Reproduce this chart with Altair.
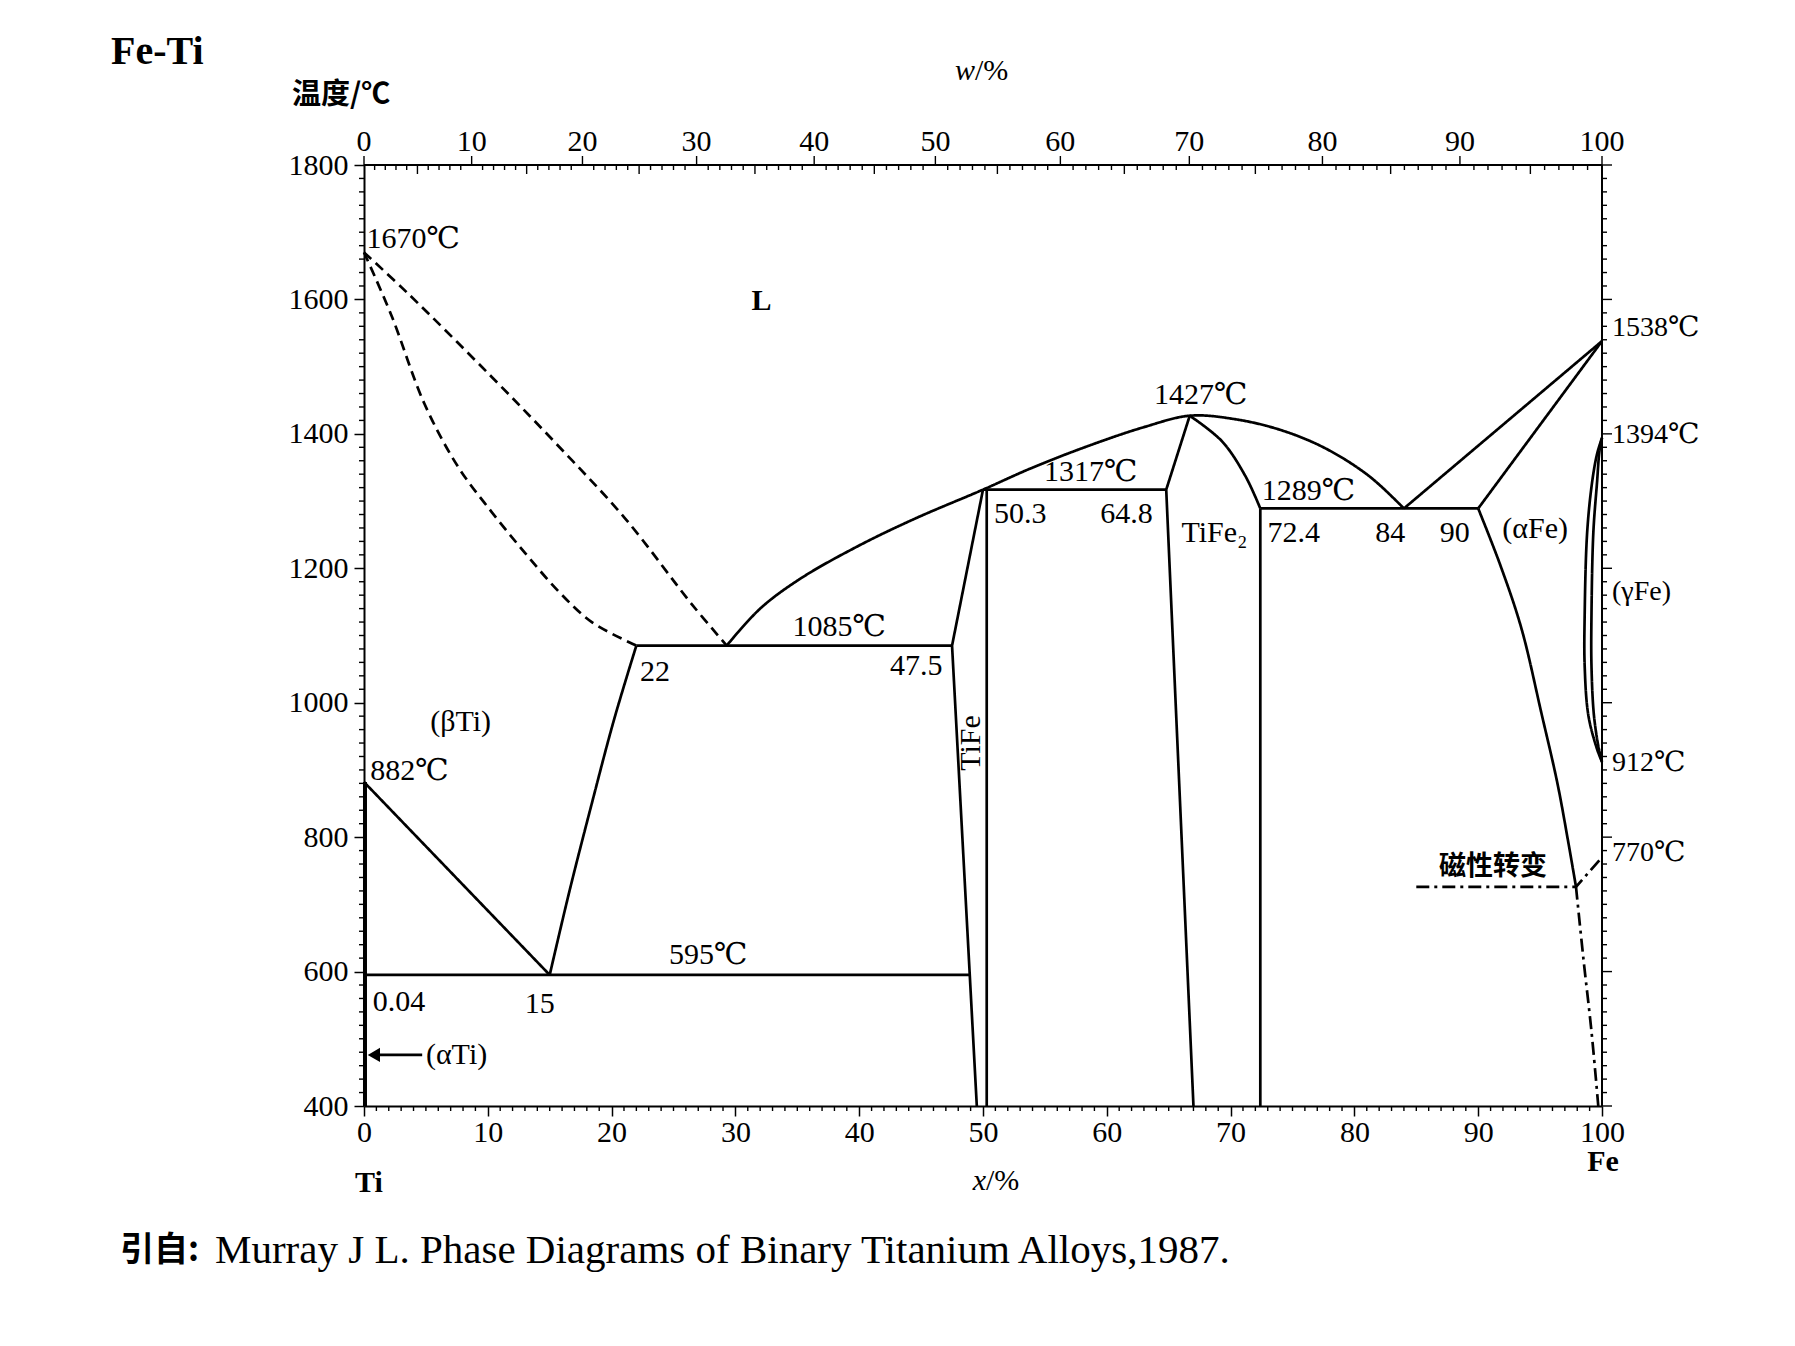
import altair as alt
import pandas as pd

# ---------------- values ----------------
# x = atomic % Fe, T = temperature (°C)
beta_liquidus_x = [0, 3.6, 10.3, 15.7, 21.1, 26.5, 29.3]
beta_liquidus_T = [1670, 1608, 1485, 1382, 1274, 1146, 1085]
beta_solidus_x = [0, 2.2, 4.9, 7.6, 10.3, 13.0, 15.7, 18.4, 22.0]
beta_solidus_T = [1670, 1577, 1444, 1351, 1284, 1223, 1166, 1120, 1085]
beta_transus_x = [0, 15]
beta_transus_T = [882, 595]
beta_solvus_x = [15, 16.6, 18.4, 20.2, 22.0]
beta_solvus_T = [595, 720, 850, 975, 1085]
eutectoid_x = [0.04, 48.9]
eutectoid_T = [595, 595]
eutectic_x = [22.0, 47.5]
eutectic_T = [1085, 1085]
alpha_ti_x = [0.08, 0.08]
alpha_ti_T = [400, 882]
liquidus_x = [29.3, 32.0, 35.2, 39.8, 44.4, 50.0, 53.9, 58.5, 63.0, 66.7, 70.3, 74.0, 77.6, 81.2, 84.0]
liquidus_T = [1085, 1140, 1184, 1232, 1273, 1317, 1349, 1382, 1410, 1427, 1422, 1406, 1379, 1337, 1289]
tife_left_x = [50.0, 47.5, 49.5]
tife_left_T = [1317, 1085, 400]
tife_right_x = [50.3, 50.3]
tife_right_T = [1317, 400]
peritectic_x = [50.0, 64.8]
peritectic_T = [1317, 1317]
tife2_left_x = [66.7, 64.8, 67.0]
tife2_left_T = [1427, 1317, 400]
tife2_right_x = [66.7, 69.3, 71.2, 72.4]
tife2_right_T = [1427, 1389, 1337, 1289]
tife2_vert_x = [72.4, 72.4]
tife2_vert_T = [1289, 400]
eutectic2_x = [72.4, 90.0]
eutectic2_T = [1289, 1289]
fe_liquidus_x = [84.0, 100.0]
fe_liquidus_T = [1289, 1538]
fe_solidus_x = [90.0, 100.0]
fe_solidus_T = [1289, 1538]
alpha_fe_solvus_x = [90.0, 91.8, 93.5, 95.1, 96.4, 97.3, 97.9]
alpha_fe_solvus_T = [1289, 1204, 1110, 985, 880, 790, 726]
alpha_fe_low_x = [97.9, 98.5, 99.15, 99.7]
alpha_fe_low_T = [726, 619, 511, 400]
magnetic_x = [85.0, 97.9, 100.0]
magnetic_T = [726, 726, 770]
gamma_outer_x = [100, 99.6, 99.2, 98.8, 98.6, 98.6, 98.9, 99.6, 100]
gamma_outer_T = [1394, 1370, 1328, 1253, 1130, 1055, 981, 931, 912]
gamma_inner_x = [100, 99.8, 99.6, 99.3, 99.15, 99.15, 99.35, 99.75, 100]
gamma_inner_T = [1394, 1375, 1328, 1253, 1130, 1055, 981, 931, 912]
arrow_x = [4.7, 0.8]
arrow_T = [476, 476]

# axis tick values
bottom_labels = list(range(0, 101, 10))
bottom_minor = [v for v in range(0, 101) if v % 10]
left_labels = list(range(400, 1801, 200))
left_minor = [v for v in range(400, 1801, 20) if v % 200]
top_w = list(range(0, 101))          # weight % Fe ticks on the top axis
M_FE, M_TI = 55.845, 47.867          # atomic masses for w% -> x% conversion

# annotations (text, x at.%, T)
ann_center = [
    ("(βTi)", 7.8, 972), ("15", 14.2, 552), ("595℃", 27.8, 625),
    ("22", 23.5, 1046), ("1085℃", 38.4, 1112), ("47.5", 44.6, 1054),
    ("50.3", 53.0, 1281), ("64.8", 61.6, 1281), ("1317℃", 58.7, 1343),
    ("1427℃", 67.6, 1458), ("TiFe₂", 68.7, 1253), ("1289℃", 76.3, 1315),
    ("72.4", 75.1, 1253), ("84", 82.9, 1253), ("90", 88.1, 1253),
    ("(αFe)", 94.6, 1258),
]
ann_left = [("1670℃", 0.2, 1690), ("882℃", 0.5, 899), ("0.04", 0.7, 555), ("(αTi)", 5.0, 476)]
ann_bold = [("L", 32.1, 1597)]
ann_cjk = [("磁性转变", 91.2, 755)]
ann_rot = [("TiFe", 49.0, 940)]
ann_right = [("1538℃", 100, 1558), ("1394℃", 100, 1399), ("(γFe)", 100, 1164),
             ("912℃", 100, 910), ("770℃", 100, 777)]

# ---------------- chart ----------------
SERIF = "Liberation Serif, DejaVu Serif, Noto Sans CJK SC"
CJK = "Noto Sans CJK SC"
W, H = 1238, 941

xscale = alt.Scale(domain=[0, 100], nice=False, zero=False)
yscale = alt.Scale(domain=[400, 1800], nice=False, zero=False)

bottom_axis = alt.Axis(values=bottom_labels, format="d", tickSize=10, tickWidth=1.5, tickColor="black",
                       domainColor="black", domainWidth=2, labelFont=SERIF, labelFontSize=30,
                       labelColor="black", labelPadding=1, labelFlush=False, labelOverlap=False,
                       grid=False, title=None)
left_axis = alt.Axis(values=left_labels, format="d", tickSize=10, tickWidth=1.5, tickColor="black",
                     domainColor="black", domainWidth=2, labelFont=SERIF, labelFontSize=30,
                     labelColor="black", labelPadding=6, labelFlush=False, labelOverlap=False,
                     grid=False, title=None)


def X():
    return alt.X("x:Q", scale=xscale, axis=bottom_axis, title=None)


def Y():
    return alt.Y("T:Q", scale=yscale, axis=left_axis, title=None)


segments = [
    ("beta_liq", beta_liquidus_x, beta_liquidus_T, "dashed", True),
    ("beta_sol", beta_solidus_x, beta_solidus_T, "dashed", True),
    ("beta_tr", beta_transus_x, beta_transus_T, "solid", False),
    ("beta_solv", beta_solvus_x, beta_solvus_T, "solid", True),
    ("eutectoid", eutectoid_x, eutectoid_T, "solid", False),
    ("eutectic", eutectic_x, eutectic_T, "solid", False),
    ("liquidus", liquidus_x, liquidus_T, "solid", True),
    ("tife_l", tife_left_x, tife_left_T, "solid", False),
    ("tife_r", tife_right_x, tife_right_T, "solid", False),
    ("perit", peritectic_x, peritectic_T, "solid", False),
    ("tife2_l", tife2_left_x, tife2_left_T, "solid", False),
    ("tife2_r", tife2_right_x, tife2_right_T, "solid", True),
    ("tife2_v", tife2_vert_x, tife2_vert_T, "solid", False),
    ("eut2", eutectic2_x, eutectic2_T, "solid", False),
    ("fe_liq", fe_liquidus_x, fe_liquidus_T, "solid", False),
    ("fe_sol", fe_solidus_x, fe_solidus_T, "solid", False),
    ("afe_solv", alpha_fe_solvus_x, alpha_fe_solvus_T, "solid", True),
    ("afe_low", alpha_fe_low_x, alpha_fe_low_T, "dashdot", True),
    ("magnetic", magnetic_x, magnetic_T, "dashdot", False),
    ("g_out", gamma_outer_x, gamma_outer_T, "solid", True),
    ("g_in", gamma_inner_x, gamma_inner_T, "solid", True),
    ("arrow", arrow_x, arrow_T, "solid", False),
]
rows = []
for name, xs, ts, style, curved in segments:
    for i, (a, b) in enumerate(zip(xs, ts)):
        rows.append({"seg": name, "ord": i, "x": a, "T": b, "style": style, "curved": curved})
df = pd.DataFrame(rows)

dash = alt.StrokeDash("style:N", legend=None,
                      scale=alt.Scale(domain=["solid", "dashed", "dashdot"],
                                      range=[[1, 0], [10, 6], [13, 5, 3, 5]]))

lines_straight = alt.Chart(df[~df["curved"]]).mark_line(
    color="black", strokeWidth=2.7, interpolate="linear").encode(
    x=X(), y=Y(), detail="seg:N", order="ord:Q", strokeDash=dash)
lines_curved = alt.Chart(df[df["curved"]]).mark_line(
    color="black", strokeWidth=2.7, interpolate="catmull-rom").encode(
    x=X(), y=Y(), detail="seg:N", order="ord:Q", strokeDash=dash)

alpha_ti = alt.Chart(pd.DataFrame({"x": alpha_ti_x, "T": alpha_ti_T})).mark_line(
    color="black", strokeWidth=4).encode(x=X(), y=Y())
arrow_head = alt.Chart(pd.DataFrame({"x": arrow_x[-1:], "T": arrow_T[-1:]})).mark_point(
    shape="triangle-left", filled=True, size=200, color="black", opacity=1).encode(x=X(), y=Y())

# minor ticks / frame
tick_style = dict(color="black", strokeWidth=1.4)
bottom_minor_l = alt.Chart(pd.DataFrame({"x": bottom_minor})).mark_rule(**tick_style).encode(
    x=X(), y=alt.value(H), y2=alt.value(H + 5))
left_minor_l = alt.Chart(pd.DataFrame({"T": left_minor})).mark_rule(**tick_style).encode(
    y=Y(), x=alt.value(-5), x2=alt.value(0))
right_minor_l = alt.Chart(pd.DataFrame({"T": left_minor})).mark_rule(**tick_style).encode(
    y=Y(), x=alt.value(W), x2=alt.value(W + 5))
right_major_l = alt.Chart(pd.DataFrame({"T": left_labels})).mark_rule(**tick_style).encode(
    y=Y(), x=alt.value(W), x2=alt.value(W + 10))

top = pd.DataFrame({"w": top_w})
top["x"] = 100 * (top["w"] / M_FE) / (top["w"] / M_FE + (100 - top["w"]) / M_TI)
top["label"] = top["w"].astype(str)
top_major = top[top["w"] % 10 == 0]
top_mid = top[(top["w"] % 5 == 0) & (top["w"] % 10 != 0)]
top_minor = top[top["w"] % 5 != 0]
top_major_l = alt.Chart(top_major).mark_rule(**tick_style).encode(x=X(), y=alt.value(-9), y2=alt.value(0))
top_mid_l = alt.Chart(top_mid).mark_rule(**tick_style).encode(x=X(), y=alt.value(0), y2=alt.value(9))
top_minor_l = alt.Chart(top_minor).mark_rule(**tick_style).encode(x=X(), y=alt.value(0), y2=alt.value(5))
top_labels_l = alt.Chart(top_major).mark_text(font=SERIF, fontSize=30, color="black",
                                              baseline="alphabetic").encode(
    x=X(), y=alt.value(-14), text="label:N")

frame = pd.DataFrame({"k": [0]})
top_line = alt.Chart(frame).mark_rule(color="black", strokeWidth=2).encode(
    x=alt.value(0), x2=alt.value(W), y=alt.value(0))
right_line = alt.Chart(frame).mark_rule(color="black", strokeWidth=2).encode(
    x=alt.value(W), y=alt.value(0), y2=alt.value(H))


def ann_layer(items, **kw):
    d = pd.DataFrame(items, columns=["text", "x", "T"])
    style = dict(font=SERIF, fontSize=30, color="black")
    style.update(kw)
    return alt.Chart(d).mark_text(**style).encode(x=X(), y=Y(), text="text:N")


texts = [
    ann_layer(ann_center, align="center", baseline="middle"),
    ann_layer(ann_left, align="left", baseline="middle"),
    ann_layer(ann_bold, align="center", baseline="middle", fontWeight="bold"),
    ann_layer(ann_cjk, align="center", baseline="middle", font=CJK, fontSize=27, fontWeight="bold"),
    ann_layer(ann_rot, align="center", baseline="middle", angle=270),
    ann_layer(ann_right, align="left", baseline="middle", dx=10, fontSize=28),
]


def free_text(txt, px, py, **kw):
    style = dict(font=SERIF, fontSize=30, color="black", baseline="middle")
    style.update(kw)
    return alt.Chart(pd.DataFrame({"t": [txt]})).mark_text(**style).encode(
        x=alt.value(px), y=alt.value(py), text="t:N")


outer = [
    free_text("Fe-Ti", -253, -113, fontSize=40, fontWeight="bold", align="left"),
    free_text("温度/℃", -72, -70, font=CJK, fontSize=29, fontWeight="bold", align="left"),
    free_text("w", 611, -94, fontStyle="italic", align="right"),
    free_text("/%", 611, -94, align="left"),
    free_text("x", 622, 1016, fontStyle="italic", align="right"),
    free_text("/%", 622, 1016, align="left"),
    free_text("Ti", 5, 1018, fontWeight="bold", align="center"),
    free_text("Fe", 1239, 997, fontWeight="bold", align="center"),
    free_text("引自:", -244, 1086, font=CJK, fontSize=34, fontWeight="bold", align="left"),
    free_text("Murray J L.  Phase Diagrams of Binary Titanium Alloys,1987.", -149, 1086,
              fontSize=41, align="left"),
]

chart = alt.layer(
    lines_straight, lines_curved, alpha_ti, arrow_head,
    bottom_minor_l, left_minor_l, right_minor_l, right_major_l,
    top_major_l, top_mid_l, top_minor_l, top_labels_l, top_line, right_line,
    *texts, *outer,
).properties(
    width=W, height=H,
    padding={"left": 364, "top": 165, "right": 193, "bottom": 240},
    autosize=alt.AutoSizeParams(type="none"),
    background="white",
).configure_view(strokeWidth=0)

chart.save("out.html", embed_options={"renderer": "svg", "actions": False})
